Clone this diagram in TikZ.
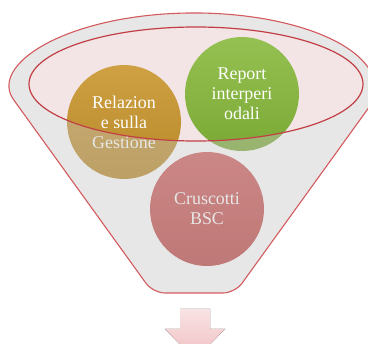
\documentclass[tikz,border=0pt]{standalone}
\usepackage{fontspec}
\setmainfont{Liberation Serif}
\usetikzlibrary{positioning}
\definecolor{funnelgray}{HTML}{FFFFFF}
\definecolor{veilgray}{HTML}{C3C3C3}
\definecolor{mouthpink}{HTML}{F3E4E6}
\definecolor{rimred}{HTML}{D45A5E}
\definecolor{lipred}{HTML}{C23F45}
\definecolor{goldball}{HTML}{C8942A}
\definecolor{greenball}{HTML}{86B83A}
\definecolor{redball}{HTML}{CC4E4B}
\definecolor{arrowpink}{HTML}{F0BFC2}
\tikzset {
  % the three balls in the funnel
  ball/.style = {circle, inner sep=0pt, minimum size=114bp, text=white,
    align=center, font=\fontsize{18}{20}\selectfont},
  goldb/.style={ball, top color=goldball!88!white, bottom color=goldball!92!black},
  greenb/.style={ball, top color=greenball!88!white, bottom color=greenball!92!black},
  redb/.style={ball, top color=redball!90!white, bottom color=redball!92!black},
  % funnel body and its mouth
  body/.style={fill=funnelgray},
  mouth/.style={fill=mouthpink},
  veil/.style={fill=veilgray, fill opacity=0.4, even odd rule},
  rim/.style={draw=rimred, line width=1.1bp},
  lip/.style={draw=lipred, line width=1.2bp},
}
\newcommand{\funnelpath}{(20.6,234.6) arc[start angle=196.6, end angle=-16.6,
  x radius=181bp, y radius=75bp] [rounded corners=12bp] -- (235,51) -- (153,51) -- cycle}

\begin{document}
\begin{tikzpicture}[x=1bp, y=1bp]
  \useasboundingbox (0,0) rectangle (368,344);
  \clip (0,0) rectangle (368,344);

  \fill[body] \funnelpath;
  \fill[mouth] (196,260) ellipse [x radius=167bp, y radius=57bp];

  \node[goldb] (rel) at (124,222) {Relazion\\e sulla\\Gestione};
  \node[greenb] (rep) at (242,250) {Report\\interperi\\odali};
  \node[redb] (crus) at (207,135) {Cruscotti\\BSC};

  % everything below the mouth is seen through the funnel
  \fill[veil] \funnelpath (196,260) ellipse [x radius=167bp, y radius=57bp];
  \draw[rim] \funnelpath;
  \draw[lip] (196,260) ellipse [x radius=167bp, y radius=57bp];

  % output arrow
  \fill[top color=arrowpink!45, bottom color=arrowpink]
    (180,35) -- (210,35) -- (210,15) -- (225,15) -- (195,-16) -- (165,15) -- (180,15) -- cycle;
\end{tikzpicture}
\end{document}
